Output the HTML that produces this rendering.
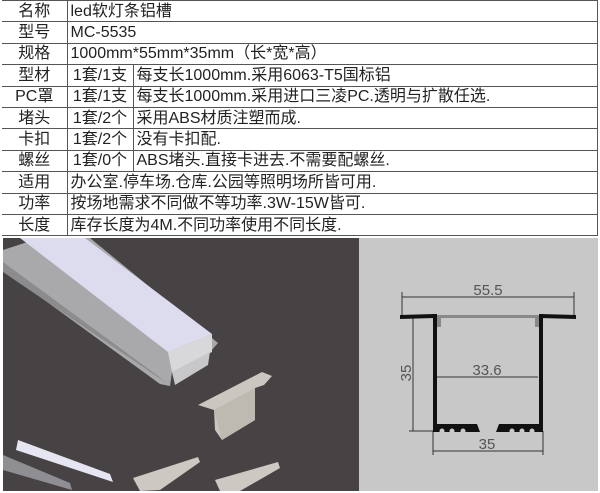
<!DOCTYPE html>
<html><head><meta charset="utf-8"><style>
body{margin:0;width:600px;height:493px;background:#fff;overflow:hidden;font-family:"Liberation Sans","Noto Sans CJK SC",sans-serif;}
table{position:absolute;left:2px;top:0;border-collapse:collapse;width:596px;font-size:16px;color:#222;table-layout:fixed;}
td{height:20.4px;border:1px solid #555;padding:0 3px;white-space:nowrap;line-height:19px;overflow:hidden;}
td.h{width:58px;text-align:center;border-left:none;}
td.c{width:59px;text-align:center;padding:0 2px;}
#pic{position:absolute;left:0;top:236px;}
</style></head><body>
<table>
<colgroup><col style="width:65px"><col style="width:66px"><col></colgroup>
<tr><td class="h">名称</td><td colspan="2">led软灯条铝槽</td></tr>
<tr><td class="h">型号</td><td colspan="2">MC-5535</td></tr>
<tr><td class="h">规格</td><td colspan="2">1000mm*55mm*35mm（长*宽*高）</td></tr>
<tr><td class="h">型材</td><td class="c">1套/1支</td><td>每支长1000mm.采用6063-T5国标铝</td></tr>
<tr><td class="h">PC罩</td><td class="c">1套/1支</td><td>每支长1000mm.采用进口三凌PC.透明与扩散任选.</td></tr>
<tr><td class="h">堵头</td><td class="c">1套/2个</td><td>采用ABS材质注塑而成.</td></tr>
<tr><td class="h">卡扣</td><td class="c">1套/2个</td><td>没有卡扣配.</td></tr>
<tr><td class="h">螺丝</td><td class="c">1套/0个</td><td>ABS堵头.直接卡进去.不需要配螺丝.</td></tr>
<tr><td class="h">适用</td><td colspan="2">办公室.停车场.仓库.公园等照明场所皆可用.</td></tr>
<tr><td class="h">功率</td><td colspan="2">按场地需求不同做不等功率.3W-15W皆可.</td></tr>
<tr><td class="h">长度</td><td colspan="2">库存长度为4M.不同功率使用不同长度.</td></tr>
</table>
<svg id="pic" width="600" height="257" viewBox="0 236 600 257">
<rect x="0" y="236" width="600" height="257" fill="#fff"/>
<rect x="3" y="238" width="356" height="253" fill="#474345"/>
<rect x="359" y="238" width="239" height="253" fill="#c8c8c8"/>
<!-- main profile -->
<polygon points="3,250 3,270 160,384 170,386 172,372 210,352 218,343 90,238 40,238" fill="#a9a9ab"/>
<polygon points="20,238 85,238 212,334 168,352" fill="#dcdcee"/>
<polygon points="3,262 158,376 168,384 3,272" fill="#8c8c8e"/>
<polygon points="168,352 212,334 212,352 172,372" fill="#d8d8da"/>
<polygon points="172,372 210,352 208,365 175,385" fill="#c8c8ca"/>
<!-- end cap 1 -->
<polygon points="198,405 262,372 272,376 264,385 255,388 255,420 222,440 215,430 214,410" fill="#c9c7c0"/>
<polygon points="214,410 255,388 255,420 222,440" fill="#bdbab2"/>
<!-- bottom covers -->
<polygon points="18,440 110,474 113,482 16,450" fill="#e6e6f2"/>
<polygon points="3,455 70,483 72,490 3,470" fill="#8f8f93"/>
<!-- bottom caps -->
<polygon points="133,478 198,457 200,462 160,490 140,491" fill="#cbc9c2"/>
<polygon points="215,480 278,462 280,468 240,491 220,491" fill="#cbc9c2"/>
<!-- drawing -->
<g stroke="#333" fill="none" stroke-width="1">
<line x1="402" y1="297" x2="574" y2="297"/>
<line x1="402" y1="292" x2="402" y2="316"/>
<line x1="574" y1="292" x2="574" y2="316"/>
<line x1="413" y1="315" x2="413" y2="431"/>
<line x1="409" y1="431" x2="433" y2="431"/>
<line x1="433" y1="431" x2="433" y2="455"/>
<line x1="543" y1="431" x2="543" y2="455"/>
<line x1="433" y1="451" x2="543" y2="451"/>
<line x1="437" y1="377" x2="538" y2="377"/>
</g>
<g fill="#111">
<polygon points="400,315 434,314 434,318 400,319"/>
<polygon points="540,314 576,315 576,319 540,318"/>
<rect x="433" y="314" width="4" height="117"/>
<rect x="539" y="314" width="4" height="117"/>
<rect x="433" y="424" width="110" height="8"/>
</g>
<rect x="437" y="315" width="102" height="3" fill="#888"/>
<rect x="437" y="318" width="4" height="9" fill="#888"/>
<rect x="535" y="318" width="4" height="9" fill="#888"/>
<g fill="#c8c8c8"><circle cx="442" cy="431" r="2.5"/><circle cx="452" cy="431" r="2.5"/><circle cx="463" cy="431" r="2.5"/><circle cx="512" cy="431" r="2.5"/><circle cx="522" cy="431" r="2.5"/><circle cx="532" cy="431" r="2.5"/>
<polygon points="477,424 499,424 496,432 480,432"/></g>
<g font-family="Liberation Sans,sans-serif" font-size="15" fill="#555" text-anchor="middle">
<text x="488" y="295">55.5</text>
<text x="487" y="375">33.6</text>
<text x="487" y="449">35</text>
<text x="0" y="0" transform="translate(411,373) rotate(-90)">35</text>
</g>
</svg>
</body></html>
